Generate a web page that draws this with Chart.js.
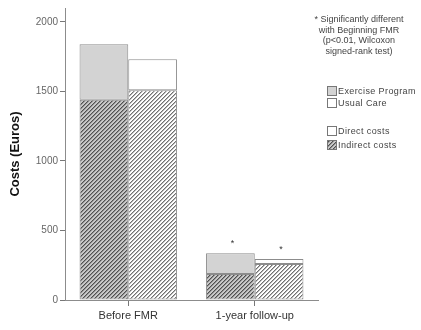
<!DOCTYPE html>
<html>
<head>
<meta charset="utf-8">
<script src="https://cdn.jsdelivr.net/npm/chart.js@4"></script>
<style>
  body { margin: 0; background: #fff; }
  #wrap { position: relative; width: 421px; height: 330px; font-family: "Liberation Sans", Arial, sans-serif; }
  #chart { position: absolute; left: 0; top: 0; }
  .note { position: absolute; left: 303px; top: 14px; width: 112px; text-align: center; font-size: 9px; line-height: 10.5px; color: #444; }
  .item { position: absolute; left: 327px; font-size: 9px; color: #444; height: 10px; line-height: 10px; white-space: nowrap; letter-spacing: 0.4px; }
  .box { display: inline-block; border: 1px solid #777; vertical-align: top; margin-right: 1px; box-sizing: border-box; width: 10px; height: 10px; }
</style>
</head>
<body>
<div id="wrap">
  <canvas id="chart" width="421" height="330"></canvas>
  <div class="note">* Significantly different<br>with Beginning FMR<br>(p&lt;0.01, Wilcoxon<br>signed-rank test)</div>
  <div class="item" style="top:86px"><span class="box" style="background:#d3d3d3"></span>Exercise Program</div>
  <div class="item" style="top:98px"><span class="box" style="background:#fff"></span>Usual Care</div>
  <div class="item" style="top:126px"><span class="box" style="background:#fff"></span>Direct costs</div>
  <div class="item" style="top:140px"><span class="box" id="hatchBox"></span>Indirect costs</div>
</div>
<script>
const categories = ['Before FMR', '1-year follow-up'];
const exerciseIndirect = [1440, 187];
const exerciseDirect = [400, 149];
const usualIndirect = [1509, 259];
const usualDirect = [223, 36];
const significance = ['', '*'];
const yTicks = [0, 500, 1000, 1500, 2000];

function hatch(bg, dark, mid) {
  const c = document.createElement('canvas');
  c.width = 4; c.height = 4;
  const g = c.getContext('2d');
  g.fillStyle = bg;
  g.fillRect(0, 0, 4, 4);
  for (let x = 0; x < 4; x++) {
    for (let y = 0; y < 4; y++) {
      const k = (x + y) % 4;
      if (k === 0) { g.fillStyle = dark; g.fillRect(x, y, 1, 1); }
      else if (k === 1) { g.fillStyle = mid; g.fillRect(x, y, 1, 1); }
    }
  }
  return c;
}

const exHatchCanvas = hatch('#c8c8c8', '#505050', '#909090');
const ucHatchCanvas = hatch('#ffffff', '#707070', '#b8b8b8');
const ctx = document.getElementById('chart').getContext('2d');
const exHatch = ctx.createPattern(exHatchCanvas, 'repeat');
const ucHatch = ctx.createPattern(ucHatchCanvas, 'repeat');
document.getElementById('hatchBox').style.background = 'url(' + exHatchCanvas.toDataURL() + ')';

const starPlugin = {
  id: 'stars',
  afterDatasetsDraw(chart) {
    const c = chart.ctx;
    c.save();
    c.font = '9px "Liberation Sans", Arial, sans-serif';
    c.fillStyle = '#333';
    c.textAlign = 'center';
    c.textBaseline = 'bottom';
    [1, 3].forEach(di => {
      chart.getDatasetMeta(di).data.forEach((bar, i) => {
        if (significance[i]) c.fillText(significance[i], bar.x + 2, bar.y - 5);
      });
    });
    c.restore();
  }
};

const barBase = { borderColor: '#8c8c8c', borderWidth: 1, borderSkipped: false, categoryPercentage: 0.77, barPercentage: 1 };

new Chart(ctx, {
  type: 'bar',
  data: {
    labels: categories,
    datasets: [
      { ...barBase, label: 'Exercise indirect', data: exerciseIndirect, backgroundColor: exHatch, stack: 'ex' },
      { ...barBase, label: 'Exercise direct', data: exerciseDirect, backgroundColor: '#d3d3d3', stack: 'ex' },
      { ...barBase, label: 'Usual indirect', data: usualIndirect, backgroundColor: ucHatch, stack: 'uc' },
      { ...barBase, label: 'Usual direct', data: usualDirect, backgroundColor: '#ffffff', stack: 'uc' }
    ]
  },
  options: {
    responsive: false,
    animation: false,
    layout: { padding: { top: 8, right: 103, bottom: 0, left: 0 } },
    plugins: { legend: { display: false }, tooltip: { enabled: false } },
    scales: {
      x: {
        grid: { display: true, drawOnChartArea: false, offset: false, tickLength: 6, color: '#777' },
        border: { color: '#8c8c8c' },
        ticks: { color: '#333', padding: 3, font: { family: '"Liberation Sans", Arial, sans-serif', size: 11 } },
        afterFit: s => { s.height = 30; }
      },
      y: {
        stacked: true,
        min: 0,
        max: 2100,
        afterBuildTicks: s => { s.ticks = yTicks.map(v => ({ value: v })); },
        grid: { display: true, drawOnChartArea: false, tickLength: 5, color: '#777' },
        border: { color: '#8c8c8c' },
        ticks: { color: '#666', padding: 2, callback: v => String(v), font: { family: '"Liberation Sans", Arial, sans-serif', size: 10 } },
        title: { display: true, text: 'Costs (Euros)', color: '#111', padding: { top: 8, bottom: 0 }, font: { family: '"Liberation Sans", Arial, sans-serif', size: 13, weight: 'bold' } },
        afterFit: s => { s.width = 65; }
      }
    }
  },
  plugins: [starPlugin]
});
</script>
</body>
</html>
